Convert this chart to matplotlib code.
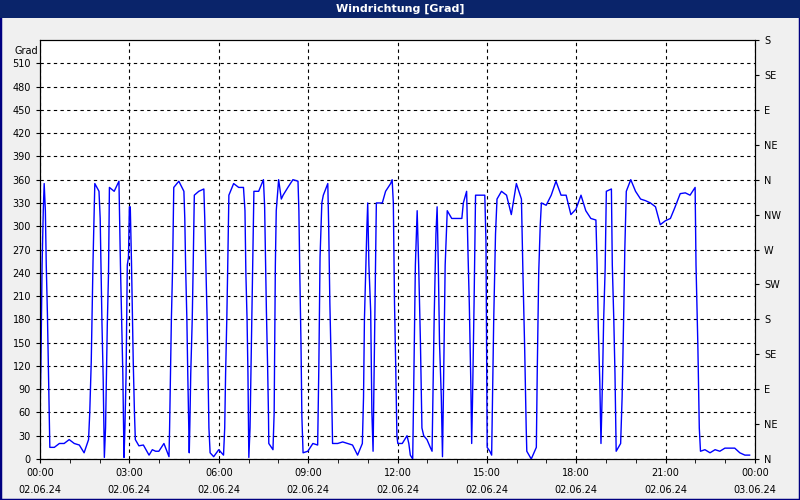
import matplotlib
matplotlib.use("Agg")
import matplotlib.pyplot as plt

hours = [0.00,0.03,0.07,0.11,0.14,0.18,0.21,0.25,0.28,0.31,0.33,0.48,0.65,0.81,0.98,1.15,1.32,1.48,1.63,1.67,1.72,1.75,1.78,1.82,1.84,1.98,2.02,2.05,2.08,2.12,2.16,2.20,2.23,2.26,2.30,2.33,2.49,2.65,2.70,2.74,2.78,2.82,2.85,2.89,2.93,2.97,3.00,3.03,3.07,3.10,3.13,3.17,3.20,3.32,3.47,3.66,3.77,3.88,3.99,4.16,4.33,4.35,4.38,4.41,4.45,4.49,4.66,4.83,4.86,4.89,4.93,4.96,5.01,5.03,5.06,5.11,5.14,5.18,5.33,5.50,5.53,5.57,5.61,5.64,5.67,5.71,5.83,6.00,6.16,6.20,6.23,6.27,6.30,6.34,6.50,6.67,6.83,6.88,6.91,6.95,6.98,7.01,7.05,7.08,7.11,7.14,7.18,7.34,7.50,7.54,7.57,7.60,7.64,7.67,
         7.68,7.82,7.86,7.90,7.93,8.01,8.10,8.16,8.32,8.49,8.66,8.69,8.72,8.76,8.79,8.83,8.99,9.16,9.32,9.36,9.40,9.46,9.51,9.66,9.69,9.73,9.77,9.82,9.99,10.16,10.32,10.49,10.66,10.82,10.86,10.89,10.93,10.97,11.00,11.04,11.10,11.14,11.18,11.21,11.24,11.29,11.49,11.60,11.77,11.82,11.86,11.90,11.94,11.98,12.01,12.16,12.32,12.38,12.43,12.51,12.54,12.60,12.66,12.71,12.77,12.82,12.88,12.99,13.10,13.16,13.19,13.23,13.29,13.33,13.37,13.41,13.47,13.51,13.54,13.60,13.67,13.82,13.99,14.16,14.21,14.32,14.37,14.41,14.46,14.49,14.52,14.57,14.62,14.77,14.93,14.97,14.99,15.01,15.10,15.16,15.19,15.23,15.29,15.34,15.49,15.66,15.82,15.99,
         16.16,16.21,16.27,16.32,16.34,16.49,16.66,16.69,16.74,16.79,16.83,16.99,17.16,17.32,17.49,17.66,17.82,17.99,18.16,18.32,18.49,18.66,18.70,18.74,18.79,18.83,18.88,18.92,18.97,19.01,19.18,19.21,19.26,19.30,19.34,19.49,19.54,19.59,19.63,19.68,19.83,19.99,20.16,20.32,20.49,20.66,20.82,20.99,21.16,21.32,21.49,21.66,21.82,21.99,22.02,22.08,22.13,22.17,22.32,22.49,22.66,22.82,22.99,23.32,23.49,23.66,23.82]
degrees = [55,120,250,320,355,320,250,185,120,50,15,15,20,20,25,20,18,8,25,60,125,190,255,320,355,345,310,240,175,105,2,40,105,175,240,350,345,358,250,180,110,2,40,110,250,260,325,325,255,190,125,60,25,17,18,5,12,10,10,20,3,40,110,180,245,350,358,345,310,245,180,110,8,45,110,180,245,340,345,348,310,245,180,110,40,8,3,12,5,40,110,180,245,340,355,350,350,320,240,180,110,2,40,110,180,245,345,345,360,325,260,190,120,55,
           20,12,60,250,320,360,335,340,350,360,358,320,240,150,55,8,10,20,18,120,260,330,340,355,300,200,130,20,20,22,20,18,5,20,80,180,240,295,330,250,190,60,10,100,200,330,330,345,355,360,330,200,120,30,20,20,30,20,5,0,80,250,320,250,150,40,30,25,15,10,80,180,290,325,250,150,80,3,80,250,320,310,310,310,330,345,260,200,100,20,80,200,340,340,340,280,150,15,10,5,80,180,290,335,345,340,315,355,
           335,240,140,40,10,0,15,110,240,300,330,327,340,358,340,340,315,322,340,320,310,308,250,170,100,20,100,180,245,345,348,250,180,110,10,20,80,180,270,345,360,345,335,333,330,325,302,307,310,325,342,343,340,350,250,150,40,10,12,8,12,10,14,14,8,5,5]

xticks = [0, 3, 6, 9, 12, 15, 18, 21, 24]
xlabels = ["00:00\n02.06.24", "03:00\n02.06.24", "06:00\n02.06.24", "09:00\n02.06.24",
           "12:00\n02.06.24", "15:00\n02.06.24", "18:00\n02.06.24", "21:00\n02.06.24",
           "00:00\n03.06.24"]
yticks = list(range(0, 511, 30))
compass_pos = list(range(0, 541, 45))
compass_lab = ["N", "NE", "E", "SE", "S", "SW", "W", "NW", "N", "NE", "E", "SE", "S"]

fig = plt.figure(figsize=(8, 5), dpi=100, facecolor="#f0f0f0")
fig.patches.append(plt.Rectangle((0, 0), 1, 1, transform=fig.transFigure, fill=False,
                                 edgecolor="#000080", linewidth=2.5))
fig.patches.append(plt.Rectangle((0, 0.964), 1, 0.036, transform=fig.transFigure,
                                 facecolor="#0a246a", edgecolor="none"))
fig.text(0.5, 0.982, "Windrichtung [Grad]", color="white", ha="center", va="center",
         fontsize=8, fontweight="bold", family="DejaVu Sans")

ax = fig.add_axes([40/800, 1 - 459/500, 715/800, (459 - 40)/500])
ax.set_facecolor("white")
ax.plot(hours, degrees, color="#0000ff", linewidth=1)
ax.set_xlim(0, 24)
ax.set_ylim(0, 540)
ax.set_xticks(xticks)
ax.set_xticklabels(xlabels, fontsize=7, linespacing=1.9)
ax.set_xticks(range(0, 25), minor=True)
ax.set_yticks(yticks)
ax.set_yticklabels([str(v) for v in yticks], fontsize=7)
ax.tick_params(axis="both", which="both", direction="out", length=3, colors="black")
ax.grid(True, which="major", color="black", linestyle=(0, (3, 3)), linewidth=0.8)
for s in ax.spines.values():
    s.set_color("black")
    s.set_linewidth(0.8)
ax.text(-0.003, 0.985, "Grad", transform=ax.transAxes, fontsize=7, ha="right", va="top")

ax2 = ax.twinx()
ax2.set_ylim(0, 540)
ax2.set_yticks(compass_pos)
ax2.set_yticklabels(compass_lab, fontsize=7)
ax2.tick_params(axis="y", direction="out", length=3)

fig.savefig("out.png", dpi=100, facecolor=fig.get_facecolor())
